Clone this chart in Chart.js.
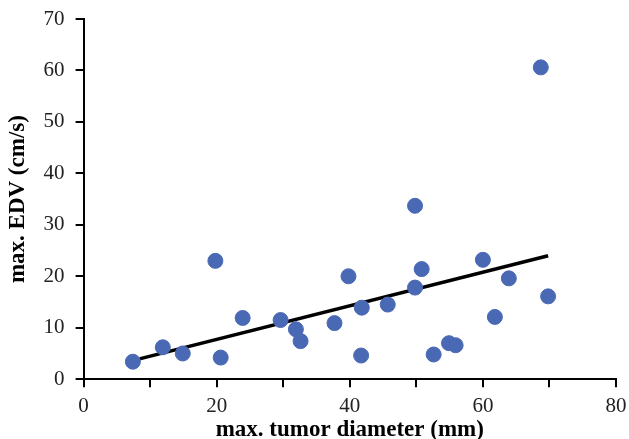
<!DOCTYPE html>
<html>
<head>
<meta charset="utf-8">
<script src="https://cdn.jsdelivr.net/npm/chart.js@4.4.0/dist/chart.umd.min.js"></script>
<style>
	html, body { margin: 0; padding: 0; background: #fff; }
	#wrap { width: 629px; height: 439px; }
</style>
</head>
<body>
<div id="wrap"><canvas id="myChart" width="629" height="439"></canvas></div>
<script>
// measured values
var diameter = [7.4, 11.9, 14.9, 19.8, 20.6, 23.9, 29.6, 31.9, 32.6, 37.7, 39.8, 41.8, 41.7, 45.7, 49.8, 49.8, 50.8, 52.6, 54.9, 55.9, 60.0, 61.8, 63.9, 68.7, 69.8];
var edv = [3.4, 6.2, 5.0, 23.0, 4.2, 11.9, 11.5, 9.7, 7.4, 10.9, 20.0, 13.9, 4.6, 14.5, 17.8, 33.7, 21.4, 4.8, 7.0, 6.6, 23.2, 12.1, 19.6, 60.6, 16.1];
var fitX = [8.4, 69.8];
var fitY = [3.95, 24.0];

document.addEventListener("DOMContentLoaded", function (event) {
	var ctx = document.getElementById('myChart');
	var points = diameter.map(function (d, i) { return { x: d, y: edv[i] }; });
	var fit = fitX.map(function (d, i) { return { x: d, y: fitY[i] }; });
	var font = 'Liberation Serif';

	new Chart(ctx, {
		type: 'scatter',
		data: {
			datasets: [{
				data: points,
				backgroundColor: '#4A69B4',
				borderColor: '#4A69B4',
				pointRadius: 7.5,
				order: 1
			},
			{
				type: 'line',
				data: fit,
				borderColor: '#000',
				borderWidth: 3.5,
				pointRadius: 0,
				fill: false,
				order: 2
			}]
		},
		options: {
			responsive: false,
			animation: false,
			layout: { padding: { top: 19, right: 13, left: 0, bottom: 0 } },
			plugins: {
				legend: { display: false },
				tooltip: { enabled: false }
			},
			scales: {
				x: {
					type: 'linear',
					min: 0,
					max: 80,
					afterFit: function (scale) { scale.paddingLeft = 0; scale.paddingRight = 0; },
					border: { color: '#000', width: 2 },
					grid: { drawOnChartArea: false, color: '#000', lineWidth: 2, tickLength: 8 },
					ticks: {
						stepSize: 10,
						color: '#222',
						font: { family: font, size: 21 },
						padding: 7,
						maxRotation: 0,
						callback: function (v) { return v % 20 === 0 ? v : ''; }
					},
					title: {
						display: true,
						text: 'max. tumor diameter (mm)',
						color: '#000',
						font: { family: font, size: 23, weight: 'bold' },
						padding: { top: -10, bottom: -5 }
					}
				},
				y: {
					min: 0,
					max: 70,
					afterFit: function (scale) { scale.paddingTop = 0; scale.paddingBottom = 0; },
					border: { color: '#000', width: 2 },
					grid: { drawOnChartArea: false, color: '#000', lineWidth: 2, tickLength: 8 },
					ticks: {
						stepSize: 5,
						color: '#222',
						font: { family: font, size: 21 },
						padding: 11,
						callback: function (v) { return v % 10 === 0 ? v : ''; }
					},
					title: {
						display: true,
						text: 'max. EDV (cm/s)',
						color: '#000',
						font: { family: font, size: 23, weight: 'bold' },
						padding: { top: 4, bottom: 1 }
					}
				}
			}
		}
	});
});
</script>
</body>
</html>
